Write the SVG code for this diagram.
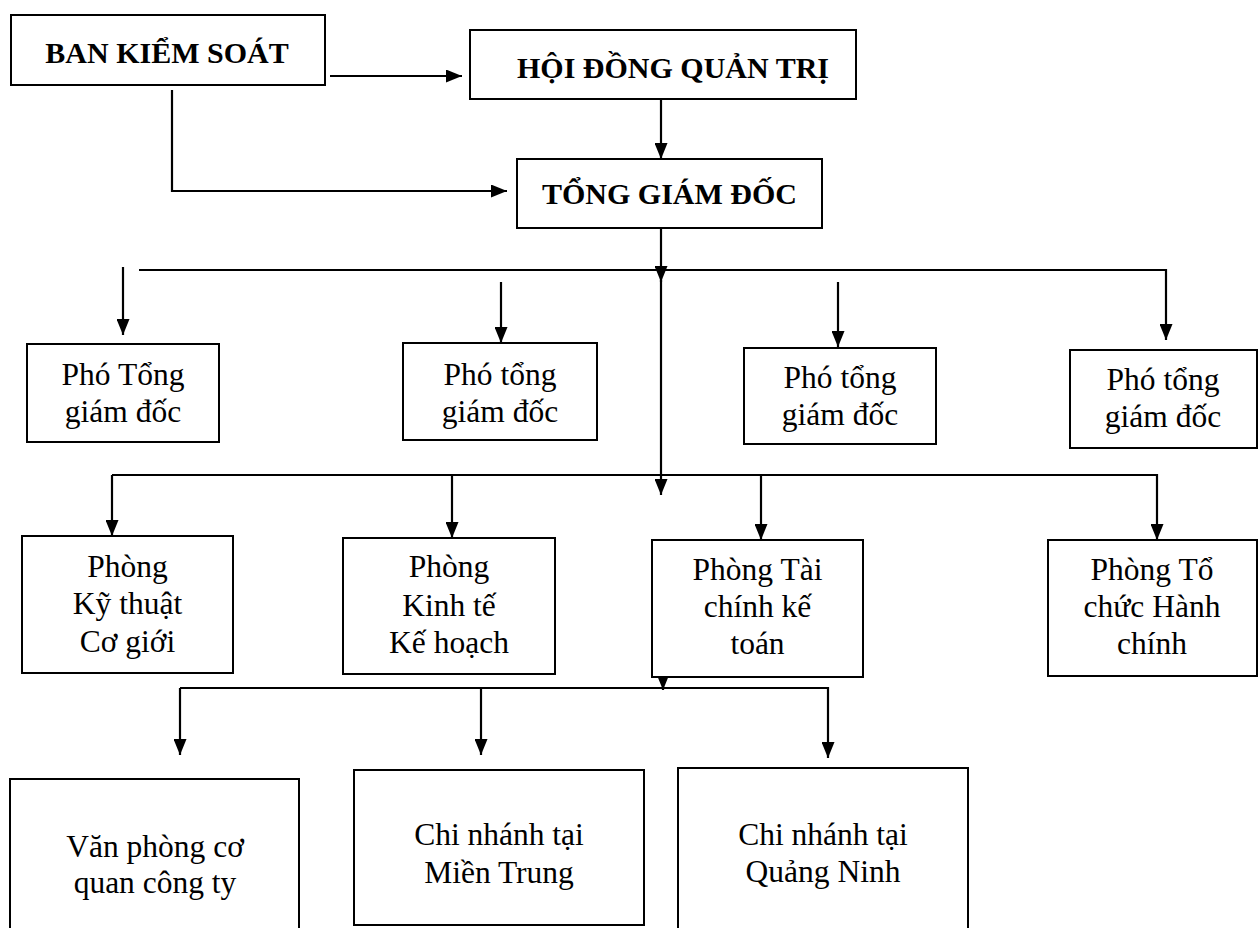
<svg xmlns="http://www.w3.org/2000/svg" width="1258" height="928" viewBox="0 0 1258 928">
<style>
.box{fill:#fff;stroke:#000;stroke-width:2}
.c{fill:none;stroke:#000;stroke-width:2.2}
.b{font-family:"Liberation Serif","Times New Roman",serif;font-weight:bold;font-size:30px;text-anchor:middle;fill:#000}
.t{font-family:"Liberation Serif","Times New Roman",serif;font-size:31.5px;text-anchor:middle;fill:#000}
</style>
<defs>
<marker id="ah" markerUnits="userSpaceOnUse" markerWidth="16" markerHeight="13" refX="16" refY="6.5" orient="auto">
<path d="M0,0 L16,6.5 L0,13 z" fill="#000"/>
</marker>
</defs>
<rect width="1258" height="928" fill="#fff"/>
<g id="connectors">
<path class="c" d="M330,76 H462" marker-end="url(#ah)"/>
<path class="c" d="M172,90 V191 H507" marker-end="url(#ah)"/>
<path class="c" d="M661,99 V159" marker-end="url(#ah)"/>
<path class="c" d="M661,228 V282" marker-end="url(#ah)"/>
<path class="c" d="M661,280 V495" marker-end="url(#ah)"/>
<path class="c" d="M139,270 H1166 V340" marker-end="url(#ah)"/>
<path class="c" d="M123,267 V335" marker-end="url(#ah)"/>
<path class="c" d="M501,282 V343" marker-end="url(#ah)"/>
<path class="c" d="M838,282 V347" marker-end="url(#ah)"/>
<path class="c" d="M112,475 H1157 V540" marker-end="url(#ah)"/>
<path class="c" d="M112,475 V536" marker-end="url(#ah)"/>
<path class="c" d="M452,475 V538" marker-end="url(#ah)"/>
<path class="c" d="M761,475 V540" marker-end="url(#ah)"/>
<path class="c" d="M663,677 V690" marker-end="url(#ah)"/>
<path class="c" d="M180,688 H828 V758" marker-end="url(#ah)"/>
<path class="c" d="M180,688 V755" marker-end="url(#ah)"/>
<path class="c" d="M481,688 V755" marker-end="url(#ah)"/>
</g>
<g id="ban-kiem-soat">
<rect class="box" x="11" y="15" width="314" height="70"/>
<text class="b" x="167" y="63">BAN KIỂM SOÁT</text>
</g>
<g id="hoi-dong-quan-tri">
<rect class="box" x="470" y="30" width="386" height="69"/>
<text class="b" x="673" y="78">HỘI ĐỒNG QUẢN TRỊ</text>
</g>
<g id="tong-giam-doc">
<rect class="box" x="517" y="159" width="305" height="69"/>
<text class="b" x="669.5" y="204">TỔNG GIÁM ĐỐC</text>
</g>
<g id="pho-tgd-1">
<rect class="box" x="27" y="344" width="192" height="98"/>
<text class="t" x="123" y="385">Phó Tổng</text>
<text class="t" x="123" y="422">giám đốc</text>
</g>
<g id="pho-tgd-2">
<rect class="box" x="403" y="343" width="194" height="97"/>
<text class="t" x="500" y="385">Phó tổng</text>
<text class="t" x="500" y="422">giám đốc</text>
</g>
<g id="pho-tgd-3">
<rect class="box" x="744" y="348" width="192" height="96"/>
<text class="t" x="840" y="388">Phó tổng</text>
<text class="t" x="840" y="425">giám đốc</text>
</g>
<g id="pho-tgd-4">
<rect class="box" x="1070" y="350" width="187" height="98"/>
<text class="t" x="1163" y="390">Phó tổng</text>
<text class="t" x="1163" y="427">giám đốc</text>
</g>
<g id="phong-ky-thuat">
<rect class="box" x="22" y="536" width="211" height="137"/>
<text class="t" x="127.5" y="577">Phòng</text>
<text class="t" x="127.5" y="614">Kỹ thuật</text>
<text class="t" x="127.5" y="652">Cơ giới</text>
</g>
<g id="phong-kinh-te">
<rect class="box" x="343" y="538" width="212" height="136"/>
<text class="t" x="449" y="577">Phòng</text>
<text class="t" x="449" y="616">Kinh tế</text>
<text class="t" x="449" y="653">Kế hoạch</text>
</g>
<g id="phong-tai-chinh">
<rect class="box" x="652" y="540" width="211" height="137"/>
<text class="t" x="757.5" y="580">Phòng Tài</text>
<text class="t" x="757.5" y="617">chính kế</text>
<text class="t" x="757.5" y="654">toán</text>
</g>
<g id="phong-to-chuc">
<rect class="box" x="1048" y="540" width="209" height="136"/>
<text class="t" x="1152" y="580">Phòng Tổ</text>
<text class="t" x="1152" y="617">chức Hành</text>
<text class="t" x="1152" y="654">chính</text>
</g>
<g id="van-phong">
<rect class="box" x="10" y="779" width="289" height="160"/>
<text class="t" x="155" y="857">Văn phòng cơ</text>
<text class="t" x="155" y="893">quan công ty</text>
</g>
<g id="chi-nhanh-mien-trung">
<rect class="box" x="354" y="770" width="290" height="155"/>
<text class="t" x="499" y="845">Chi nhánh tại</text>
<text class="t" x="499" y="883">Miền Trung</text>
</g>
<g id="chi-nhanh-quang-ninh">
<rect class="box" x="678" y="768" width="290" height="170"/>
<text class="t" x="823" y="845">Chi nhánh tại</text>
<text class="t" x="823" y="882">Quảng Ninh</text>
</g>
</svg>
